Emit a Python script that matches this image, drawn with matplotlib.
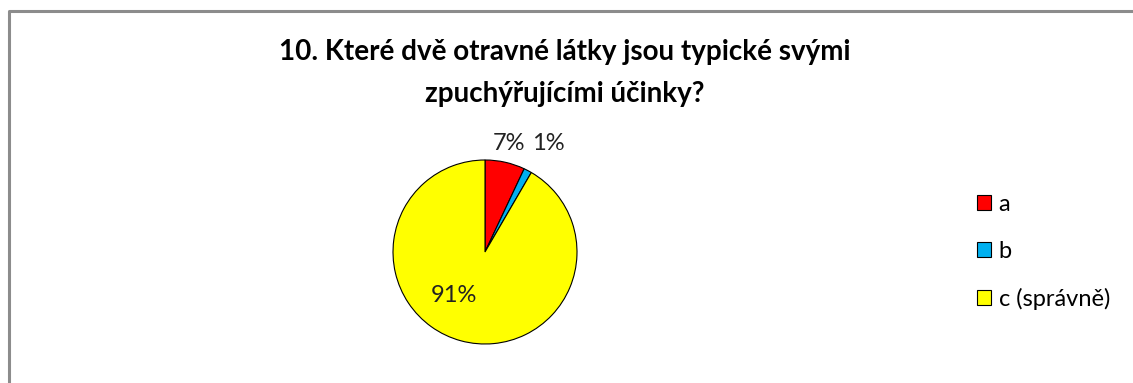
import matplotlib.pyplot as plt
from matplotlib.patches import Patch

plt.rcParams['font.family'] = ['Lato', 'DejaVu Sans']

categories = ["a", "b", "c (správně)"]
values = [7, 1.4, 91.6]
labels = ["7%", "1%", "91%"]
colors = ["#FF0000", "#00B0F0", "#FFFF00"]
title = "10. Které dvě otravné látky jsou typické svými\nzpuchýřujícími účinky?"

W, H = 1133, 383
fig = plt.figure(figsize=(W / 100, H / 100), dpi=100)
ax = fig.add_axes([0, 0, 1, 1])
ax.set_xlim(0, W)
ax.set_ylim(0, H)
ax.axis("off")

# chart frame (only top and left edges visible in the crop)
ax.plot([9, 9, W + 5], [-5, H - 11, H - 11], color="#8c8c8c", lw=2.2, solid_capstyle="butt")

wedges, texts = ax.pie(values, labels=labels, colors=colors, startangle=90, counterclock=False,
                       center=(485, H - 252), radius=92, labeldistance=1.22,
                       wedgeprops=dict(edgecolor="black", linewidth=0.8),
                       textprops=dict(fontsize=17, color="#222222"))
texts[0].set_position((509, H - 143))
texts[1].set_position((548, H - 143))
texts[2].set_position((454, H - 296))
for t in texts:
    t.set_ha("center")
    t.set_va("center")

ax.set_aspect("equal")
ax.set_xlim(0, W)
ax.set_ylim(0, H)

fig.text(565 / W, 1 - 73 / H, title, ha="center", va="center", fontsize=20,
         fontweight="bold", linespacing=1.8, color="black")

handles = [Patch(facecolor=c, edgecolor="black", linewidth=0.8) for c in colors]
fig.legend(handles, categories, loc="center left", bbox_to_anchor=(965 / W, 1 - 252 / H),
           frameon=False, fontsize=17, handlelength=0.62, handleheight=0.62,
           handletextpad=0.3, labelspacing=1.1, borderpad=0)

fig.savefig("out.png", dpi=100)
